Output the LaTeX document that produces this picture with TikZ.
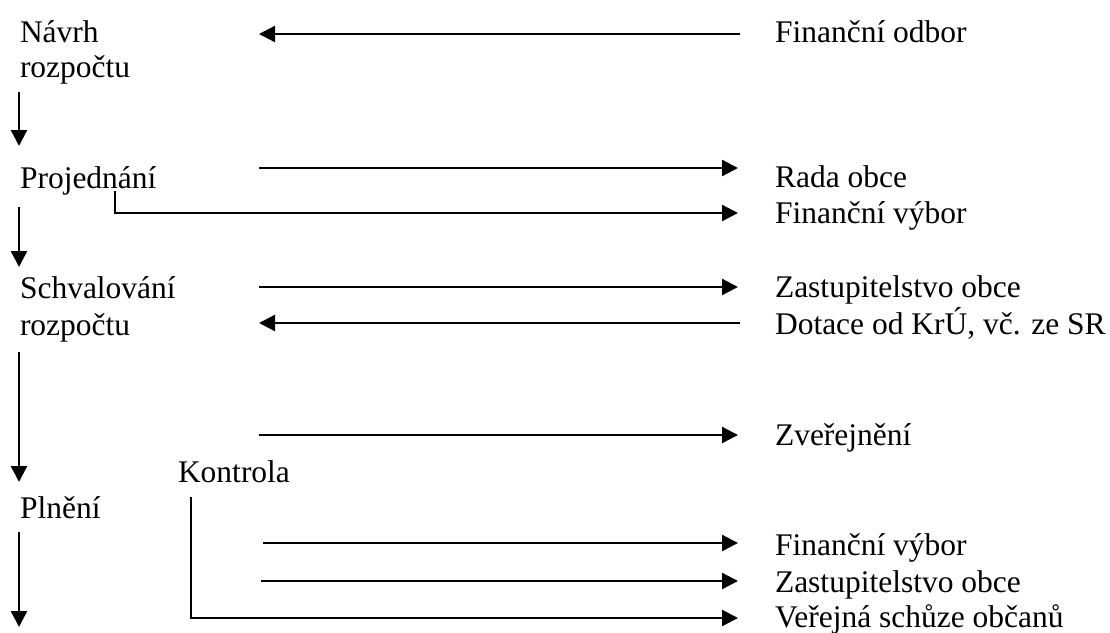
\documentclass[tikz,border=0pt]{standalone}
\usepackage{fontspec}
\setmainfont{Liberation Serif}
\usetikzlibrary{arrows.meta}
\tikzset{
  lbl/.style={anchor=base west, inner sep=0pt, outer sep=0pt, font=\fontsize{31.5}{36}\selectfont},
  conn/.style={line width=2.3pt, -{Triangle[length=16pt,width=16pt]}},
  plain/.style={line width=2.3pt}
}
\begin{document}
\begin{tikzpicture}[x=1pt,y=-1pt]
\useasboundingbox (0,0) rectangle (1110,632);
% left column
\node[lbl] (navrh) at (20,42) {Návrh};
\node[lbl] (navrh2) at (20,77) {rozpočtu};
\node[lbl] (proj) at (20,188) {Projednání};
\node[lbl] (schv) at (20,298) {Schvalování};
\node[lbl] (schv2) at (20,335) {rozpočtu};
\node[lbl] (kontrola) at (178,482) {Kontrola};
\node[lbl] (plneni) at (20,518) {Plnění};
% right column
\node[lbl] (fo) at (775,42) {Finanční odbor};
\node[lbl] (rada) at (775,187) {Rada obce};
\node[lbl] (fv1) at (775,223) {Finanční výbor};
\node[lbl] (zo1) at (775,297) {Zastupitelstvo obce};
\node[lbl] (dot) at (775,334) {Dotace od KrÚ, vč. ze SR};
\node[lbl] (zver) at (775,445) {Zveřejnění};
\node[lbl] (fv2) at (775,555) {Finanční výbor};
\node[lbl] (zo2) at (775,592) {Zastupitelstvo obce};
\node[lbl] (ver) at (775,627) {Veřejná schůze občanů};
% coordinates
\coordinate (d1a) at (19,92);  \coordinate (d1b) at (19,146);
\coordinate (d2a) at (19,207); \coordinate (d2b) at (19,267);
\coordinate (d3a) at (19,352); \coordinate (d3b) at (19,482);
\coordinate (d4a) at (19,532); \coordinate (d4b) at (19,627);
\coordinate (h1a) at (740,34);  \coordinate (h1b) at (259,34);
\coordinate (h2a) at (259,168); \coordinate (h2b) at (738,168);
\coordinate (e1a) at (115,191); \coordinate (e1b) at (738,213);
\coordinate (h3a) at (259,287); \coordinate (h3b) at (738,287);
\coordinate (h4a) at (740,323); \coordinate (h4b) at (259,323);
\coordinate (h5a) at (259,435); \coordinate (h5b) at (738,435);
\coordinate (h6a) at (263,543); \coordinate (h6b) at (738,543);
\coordinate (h7a) at (261,581); \coordinate (h7b) at (738,581);
\coordinate (e2a) at (191,497); \coordinate (e2b) at (738,618);
% vertical arrows
\draw[conn] (d1a) -- (d1b);
\draw[conn] (d2a) -- (d2b);
\draw[conn] (d3a) -- (d3b);
\draw[conn] (d4a) -- (d4b);
% horizontal arrows
\draw[conn] (h1a) -- (h1b);
\draw[conn] (h2a) -- (h2b);
\draw[conn] (e1a) |- (e1b);
\draw[conn] (h3a) -- (h3b);
\draw[conn] (h4a) -- (h4b);
\draw[conn] (h5a) -- (h5b);
\draw[conn] (h6a) -- (h6b);
\draw[conn] (h7a) -- (h7b);
\draw[conn] (e2a) |- (e2b);
\end{tikzpicture}
\end{document}
